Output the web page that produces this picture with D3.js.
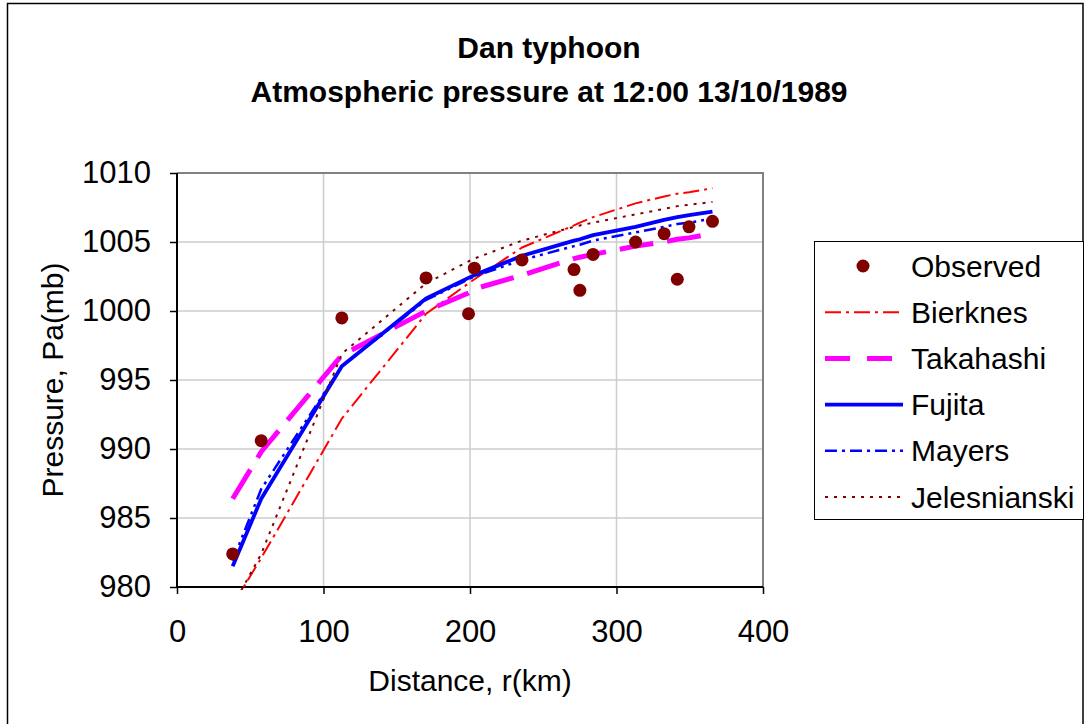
<!DOCTYPE html>
<html>
<head>
<meta charset="utf-8">
<script src="https://cdn.jsdelivr.net/npm/d3@7"></script>
<style>
  html, body { margin: 0; padding: 0; background: #fff; }
  svg text { font-family: "Liberation Sans", Arial, sans-serif; fill: #000; }
</style>
</head>
<body>
<svg id="chart" width="1086" height="724"></svg>
<script>
// ---- data ----
const distance = [38, 57.5, 112.5, 170, 199, 203, 235.5, 271, 275, 284, 313, 332.5, 341.5, 349.5, 365.5];
const observed = [982.4, 990.6, 999.5, 1002.4, 999.8, 1003.1, 1003.7, 1003.0, 1001.5, 1004.1, 1005.0, 1005.6, 1002.3, 1006.1, 1006.5];
const bierknes = [978.7, 982.1, 992.2, 999.8, 1002.0, 1002.3, 1004.6, 1006.2, 1006.4, 1006.8, 1007.8, 1008.3, 1008.5, 1008.6, 1008.9];
const takahashi = [986.4, 989.8, 996.8, 1000.0, 1001.3, 1001.6, 1002.6, 1003.8, 1003.9, 1004.1, 1004.7, 1005.0, 1005.2, 1005.3, 1005.6];
const fujita = [981.5, 986.4, 996.0, 1000.9, 1002.4, 1002.6, 1004.0, 1005.1, 1005.2, 1005.5, 1006.1, 1006.6, 1006.8, 1006.95, 1007.2];
const mayers = [981.9, 987.1, 996.0, 1000.8, 1002.3, 1002.5, 1003.7, 1004.7, 1004.8, 1005.1, 1005.7, 1006.1, 1006.3, 1006.4, 1006.7];
const jelesnianski = [978.6, 982.4, 996.9, 1002.0, 1003.6, 1003.8, 1005.1, 1006.1, 1006.2, 1006.4, 1007.0, 1007.4, 1007.6, 1007.7, 1007.9];
const xTicks = [0, 100, 200, 300, 400];
const yTicks = [980, 985, 990, 995, 1000, 1005, 1010];
const titleLines = ["Dan typhoon", "Atmospheric pressure at 12:00 13/10/1989"];
const xTitle = "Distance, r(km)";
const yTitle = "Pressure, Pa(mb)";

const series = [
  { name: "Bierknes", values: bierknes, color: "#FF0000", width: 2, dash: "16,5,3,5", legendDash: "16,5,3,5" },
  { name: "Takahashi", values: takahashi, color: "#FF00FF", width: 5, dash: "34,14", legendDash: "25,17" },
  { name: "Fujita", values: fujita, color: "#0000FF", width: 3.8, dash: null, legendDash: null },
  { name: "Mayers", values: mayers, color: "#0000FF", width: 2.5, dash: "12,5,3,5,3,5", legendDash: "12,5,3,5" },
  { name: "Jelesnianski", values: jelesnianski, color: "#800000", width: 2, dash: "3,6", legendDash: "3,6" }
];

// ---- layout ----
const svg = d3.select("#chart");
const L = 177, R = 763, T = 173, B = 587;
const FS = "30px";
const x = d3.scaleLinear().domain([0, 400]).range([L, R]);
const y = d3.scaleLinear().domain([980, 1010]).range([B, T]);

// outer chart border
svg.append("rect").attr("x", 7.5).attr("y", 3.5).attr("width", 1075.5).attr("height", 740)
  .attr("fill", "none").attr("stroke", "#000").attr("stroke-width", 1.5);

// title
svg.selectAll("text.title").data(titleLines).enter().append("text")
  .attr("class", "title")
  .attr("x", 549).attr("y", (d, i) => 47 + i * 44)
  .attr("text-anchor", "middle").attr("dy", "0.35em")
  .style("font-weight", "bold").style("font-size", "30px")
  .text(d => d);

// gridlines
svg.append("g").selectAll("line").data(yTicks.filter(t => t > 980 && t < 1010)).enter().append("line")
  .attr("x1", L).attr("x2", R).attr("y1", d => y(d)).attr("y2", d => y(d))
  .attr("stroke", "#cccccc").attr("stroke-width", 1.5);
svg.append("g").selectAll("line").data(xTicks.filter(t => t > 0 && t < 400)).enter().append("line")
  .attr("y1", T).attr("y2", B).attr("x1", d => x(d)).attr("x2", d => x(d))
  .attr("stroke", "#cccccc").attr("stroke-width", 1.5);

// plot border top/right
svg.append("path").attr("d", `M${L},${T}H${R}V${B}`)
  .attr("fill", "none").attr("stroke", "#808080").attr("stroke-width", 2);

// axes
const xAxis = d3.axisBottom(x).tickValues(xTicks).tickSize(7).tickPadding(26).tickFormat(d3.format("d"));
const yAxis = d3.axisLeft(y).tickValues(yTicks).tickSize(7).tickPadding(19).tickFormat(d3.format("d"));
const gx = svg.append("g").attr("transform", `translate(0,${B})`).call(xAxis);
const gy = svg.append("g").attr("transform", `translate(${L},0)`).call(yAxis);
[gx, gy].forEach(g => {
  g.select(".domain").attr("stroke", "#000").attr("stroke-width", 2);
  g.selectAll(".tick line").attr("stroke", "#000").attr("stroke-width", 1.5);
  g.selectAll(".tick text").style("font-size", "31px").style("font-family", "'Liberation Sans', Arial, sans-serif").attr("fill", "#000");
});
gx.select(".domain").attr("d", `M${L},0H${R}`);
gy.select(".domain").attr("d", `M0,${B}V${T}`);

// axis titles
svg.append("text").attr("x", 470).attr("y", 680).attr("text-anchor", "middle").attr("dy", "0.35em")
  .style("font-size", FS).text(xTitle);
svg.append("text").attr("transform", "translate(52,380) rotate(-90)").attr("text-anchor", "middle").attr("dy", "0.35em")
  .style("font-size", FS).text(yTitle);

// clip
svg.append("clipPath").attr("id", "plotclip").append("rect")
  .attr("x", L).attr("y", T).attr("width", R - L).attr("height", B - T + 3);

const line = d3.line().x(d => x(d[0])).y(d => y(d[1]));
const gl = svg.append("g").attr("clip-path", "url(#plotclip)");
series.forEach(s => {
  gl.append("path").datum(distance.map((r, i) => [r, s.values[i]]))
    .attr("d", line).attr("fill", "none")
    .attr("stroke", s.color).attr("stroke-width", s.width)
    .attr("stroke-dasharray", s.dash)
    .attr("stroke-linejoin", "round");
});
gl.selectAll("circle.obs").data(distance.map((r, i) => [r, observed[i]])).enter().append("circle")
  .attr("class", "obs").attr("cx", d => x(d[0])).attr("cy", d => y(d[1])).attr("r", 6.5)
  .attr("fill", "#800000");

// legend
const lg = svg.append("g");
lg.append("rect").attr("x", 814.5).attr("y", 241.5).attr("width", 269).attr("height", 278)
  .attr("fill", "#fff").attr("stroke", "#000").attr("stroke-width", 1);
const rowY = i => 266 + i * 46.2;
lg.append("circle").attr("cx", 863).attr("cy", rowY(0)).attr("r", 6.5).attr("fill", "#800000");
lg.append("text").attr("x", 911).attr("y", rowY(0)).attr("dy", "0.35em").style("font-size", FS).text("Observed");
series.forEach((s, i) => {
  lg.append("line").attr("x1", 825).attr("x2", 903).attr("y1", rowY(i + 1)).attr("y2", rowY(i + 1))
    .attr("stroke", s.color).attr("stroke-width", s.width).attr("stroke-dasharray", s.legendDash);
  lg.append("text").attr("x", 911).attr("y", rowY(i + 1)).attr("dy", "0.35em").style("font-size", FS).text(s.name);
});
</script>
</body>
</html>
